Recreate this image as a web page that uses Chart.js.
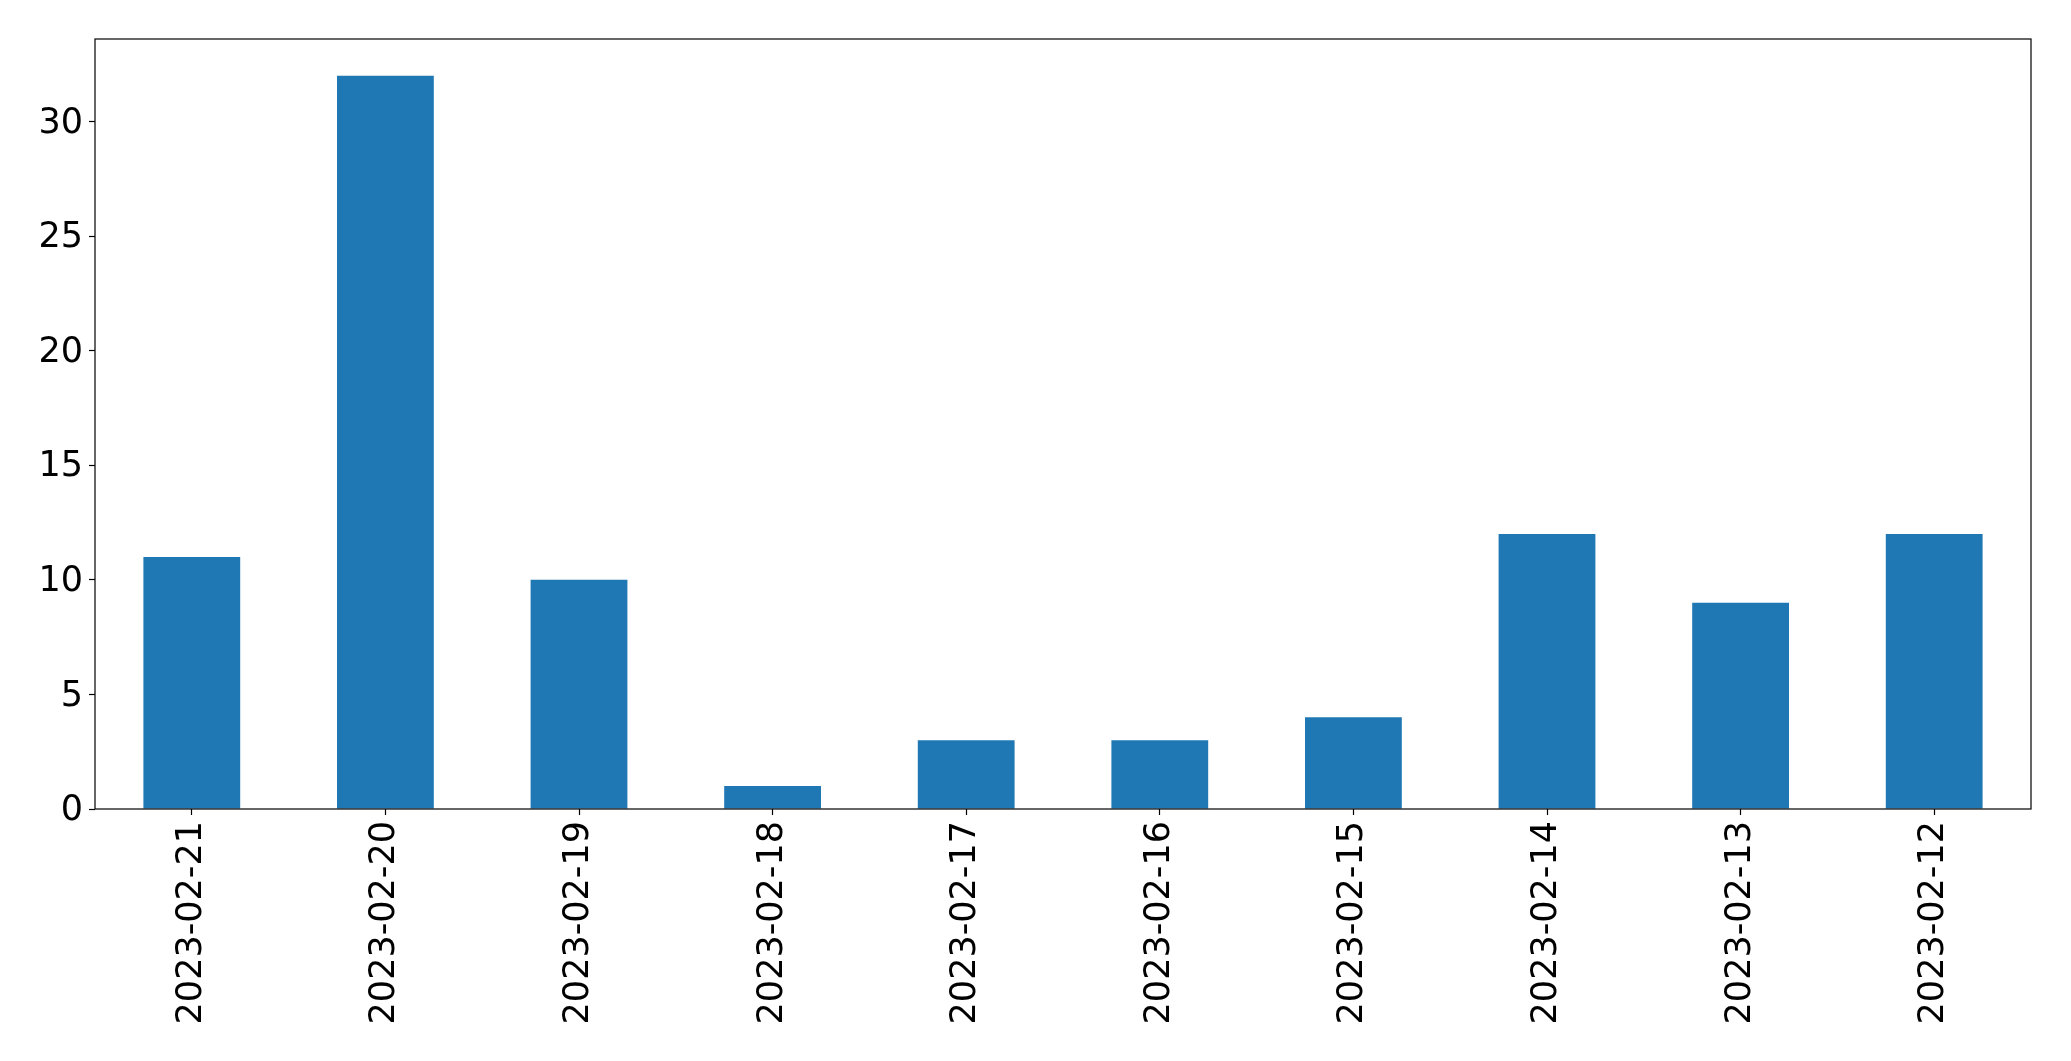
<!DOCTYPE html>
<html>
<head>
<meta charset="utf-8">
<script src="https://cdn.jsdelivr.net/npm/chart.js@4/dist/chart.umd.min.js"></script>
<style>
  html, body { margin: 0; padding: 0; background: #fff; }
  #wrap { width: 2071px; height: 1061px; }
</style>
</head>
<body>
<div id="wrap"><canvas id="chart" width="2071" height="1061"></canvas></div>
<script>
// Data
const dates = ["2023-02-21", "2023-02-20", "2023-02-19", "2023-02-18", "2023-02-17",
               "2023-02-16", "2023-02-15", "2023-02-14", "2023-02-13", "2023-02-12"];
const counts = [11, 32, 10, 1, 3, 3, 4, 12, 9, 12];
const yTicks = [0, 5, 10, 15, 20, 25, 30];
const yMax = 33.6;

// -----------------------------
// Frame round the plot area
// -----------------------------
const framePlugin = {
    id: "frame",
    afterDraw(chart) {
        const { ctx, chartArea: a } = chart;
        ctx.save();
        ctx.strokeStyle = "#000";
        ctx.lineWidth = 1.2;
        ctx.strokeRect(a.left, a.top, a.right - a.left, a.bottom - a.top);
        ctx.restore();
    }
};

const font = { family: "'DejaVu Sans', sans-serif", size: 35 };

new Chart(document.getElementById("chart"), {
    type: "bar",
    data: {
        labels: dates,
        datasets: [{
            data: counts,
            backgroundColor: "#1f77b4",
            barPercentage: 0.5,
            categoryPercentage: 1.0
        }]
    },
    options: {
        responsive: false,
        animation: false,
        layout: { padding: { left: 0, right: 40, top: 39, bottom: 0 } },
        plugins: { legend: { display: false }, tooltip: { enabled: false } },
        scales: {
            x: {
                offset: true,
                grid: { offset: false, drawOnChartArea: false, tickLength: 6, tickColor: "#000", tickWidth: 1.2 },
                border: { display: false },
                ticks: { color: "#000", font, minRotation: 90, maxRotation: 90, padding: 6, autoSkip: false },
                afterFit(scale) { scale.height = 252; }
            },
            y: {
                min: 0,
                max: yMax,
                grid: { drawOnChartArea: false, tickLength: 6, tickColor: "#000", tickWidth: 1.2 },
                border: { display: false },
                ticks: { color: "#000", font, padding: 6, labelOffset: 2 },
                afterBuildTicks(scale) { scale.ticks = yTicks.map(v => ({ value: v })); },
                afterFit(scale) { scale.width = 95; }
            }
        }
    },
    plugins: [framePlugin]
});
</script>
</body>
</html>
